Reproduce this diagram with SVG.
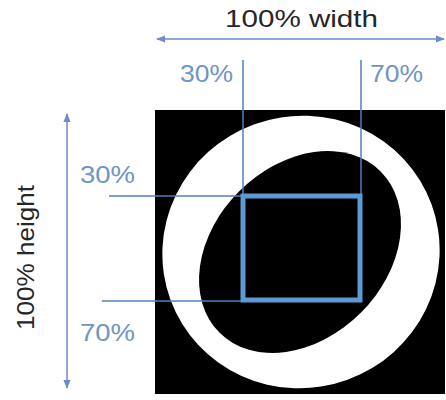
<svg xmlns="http://www.w3.org/2000/svg" width="446" height="400" viewBox="0 0 446 400">
<style>
.lbl{font-family:"Liberation Sans",Arial,sans-serif;font-size:24px;fill:#262626}
.pct{font-family:"Liberation Sans",Arial,sans-serif;font-size:24px;fill:#6f94c6}
.guide{stroke:#4f81bd;stroke-width:1.5;fill:none}
.dim{stroke:#6a8cc8;stroke-width:1.5;fill:none}
</style>
<defs>
<marker id="ah" viewBox="0 0 10 10" refX="9" refY="5" markerWidth="6" markerHeight="6" orient="auto-start-reverse">
<path d="M0,1 L10,5 L0,9 Z" fill="#6a8cc8"/>
</marker>
</defs>
<rect width="446" height="400" fill="#ffffff"/>
<g id="image">
<rect x="155" y="110" width="290" height="284" fill="#000"/>
<ellipse cx="301" cy="252" rx="139" ry="136" fill="#fff" transform="rotate(-20 301 252)"/>
<ellipse cx="300" cy="252" rx="114" ry="86" fill="#000" transform="rotate(-45 300 252)"/>
</g>
<g id="connectors">
<line class="dim" x1="157" y1="39" x2="444" y2="39" marker-start="url(#ah)" marker-end="url(#ah)"/>
<line class="dim" x1="67" y1="114" x2="67" y2="388" marker-start="url(#ah)" marker-end="url(#ah)"/>
<line class="guide" x1="243" y1="60" x2="243" y2="196"/>
<line class="guide" x1="361" y1="60" x2="361" y2="196"/>
<line class="guide" x1="109" y1="196" x2="243" y2="196"/>
<line class="guide" x1="102" y1="301" x2="243" y2="301"/>
</g>
<g id="roi">
<rect x="243" y="196" width="117" height="104" fill="none" stroke="#5b9bd5" stroke-width="5"/>
</g>
<g id="labels">
<text class="lbl" x="225" y="27" textLength="153" lengthAdjust="spacingAndGlyphs">100% width</text>
<text class="lbl" transform="translate(34 330) rotate(-90)" x="0" y="0" textLength="145" lengthAdjust="spacingAndGlyphs">100% height</text>
<text class="pct" x="180" y="82" textLength="53" lengthAdjust="spacingAndGlyphs">30%</text>
<text class="pct" x="370" y="82" textLength="53" lengthAdjust="spacingAndGlyphs">70%</text>
<text class="pct" x="80" y="183" textLength="55" lengthAdjust="spacingAndGlyphs">30%</text>
<text class="pct" x="80" y="341" textLength="55" lengthAdjust="spacingAndGlyphs">70%</text>
</g>
</svg>
